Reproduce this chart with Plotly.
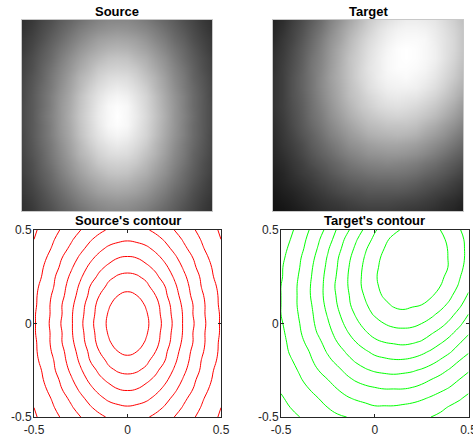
import numpy as np
import plotly.graph_objects as go

W, H = 473, 439

# sample grid (both axes), -0.5 .. 0.5
grid = [-0.5, -0.45, -0.4, -0.35, -0.3, -0.25, -0.2, -0.15, -0.1, -0.05, 0.0,
        0.05, 0.1, 0.15, 0.2, 0.25, 0.3, 0.35, 0.4, 0.45, 0.5]

# Source intensity (x100), rows from y=-0.5 (bottom) to y=0.5 (top)
source_vals = [
    [19, 22, 27, 31, 36, 40, 44, 48, 51, 53, 53, 53, 51, 48, 44, 40, 36, 31, 27, 22, 19],
    [20, 24, 29, 34, 39, 44, 49, 53, 56, 58, 59, 58, 56, 53, 49, 44, 39, 34, 29, 24, 20],
    [22, 26, 31, 37, 42, 48, 53, 58, 62, 64, 65, 64, 62, 58, 53, 48, 42, 37, 31, 26, 22],
    [23, 28, 34, 40, 46, 52, 58, 63, 67, 70, 71, 70, 67, 63, 58, 52, 46, 40, 34, 28, 23],
    [25, 30, 36, 42, 49, 56, 62, 68, 72, 76, 77, 76, 72, 68, 62, 56, 49, 42, 36, 30, 25],
    [26, 31, 38, 45, 52, 59, 66, 72, 78, 81, 82, 81, 78, 72, 66, 59, 52, 45, 38, 31, 26],
    [27, 33, 39, 47, 54, 62, 70, 76, 82, 86, 87, 86, 82, 76, 70, 62, 54, 47, 39, 33, 27],
    [28, 34, 41, 48, 56, 64, 72, 80, 86, 90, 92, 90, 86, 80, 72, 64, 56, 48, 41, 34, 28],
    [28, 35, 42, 50, 58, 66, 75, 83, 89, 94, 96, 94, 89, 83, 75, 66, 58, 50, 42, 35, 28],
    [29, 35, 42, 50, 59, 67, 76, 84, 91, 97, 99, 97, 91, 84, 76, 67, 59, 50, 42, 35, 29],
    [29, 35, 43, 51, 59, 68, 77, 85, 92, 97, 100, 97, 92, 85, 77, 68, 59, 51, 43, 35, 29],
    [29, 35, 42, 50, 59, 67, 76, 84, 91, 97, 99, 97, 91, 84, 76, 67, 59, 50, 42, 35, 29],
    [28, 35, 42, 50, 58, 66, 75, 83, 89, 94, 96, 94, 89, 83, 75, 66, 58, 50, 42, 35, 28],
    [28, 34, 41, 48, 56, 64, 72, 80, 86, 90, 92, 90, 86, 80, 72, 64, 56, 48, 41, 34, 28],
    [27, 33, 39, 47, 54, 62, 70, 76, 82, 86, 87, 86, 82, 76, 70, 62, 54, 47, 39, 33, 27],
    [26, 31, 38, 45, 52, 59, 66, 72, 78, 81, 82, 81, 78, 72, 66, 59, 52, 45, 38, 31, 26],
    [25, 30, 36, 42, 49, 56, 62, 68, 72, 76, 77, 76, 72, 68, 62, 56, 49, 42, 36, 30, 25],
    [23, 28, 34, 40, 46, 52, 58, 63, 67, 70, 71, 70, 67, 63, 58, 52, 46, 40, 34, 28, 23],
    [22, 26, 31, 37, 42, 48, 53, 58, 62, 64, 65, 64, 62, 58, 53, 48, 42, 37, 31, 26, 22],
    [20, 24, 29, 34, 39, 44, 49, 53, 56, 58, 59, 58, 56, 53, 49, 44, 39, 34, 29, 24, 20],
    [19, 22, 27, 31, 36, 40, 44, 48, 51, 53, 53, 53, 51, 48, 44, 40, 36, 31, 27, 22, 19],
]

# Target intensity (x100), rows from y=-0.5 (bottom) to y=0.5 (top)
target_vals = [
    [7, 8, 10, 12, 15, 17, 19, 20, 22, 23, 24, 24, 24, 23, 22, 21, 20, 18, 16, 14, 11],
    [8, 10, 12, 15, 17, 20, 22, 24, 26, 28, 29, 29, 29, 28, 27, 26, 24, 22, 19, 17, 14],
    [9, 12, 14, 17, 20, 23, 26, 29, 31, 32, 34, 34, 34, 34, 33, 31, 29, 26, 24, 21, 18],
    [11, 14, 17, 20, 23, 27, 30, 33, 36, 38, 39, 40, 40, 40, 39, 37, 34, 32, 29, 25, 22],
    [12, 15, 19, 23, 26, 30, 34, 38, 41, 43, 45, 46, 46, 46, 45, 43, 40, 37, 34, 30, 26],
    [14, 17, 21, 25, 30, 34, 38, 42, 46, 49, 51, 52, 53, 52, 51, 49, 46, 43, 39, 35, 31],
    [15, 19, 23, 28, 33, 38, 42, 47, 51, 54, 57, 58, 59, 59, 58, 56, 53, 49, 45, 40, 36],
    [16, 21, 25, 30, 36, 41, 46, 51, 56, 59, 62, 64, 65, 65, 64, 62, 59, 55, 51, 46, 41],
    [17, 22, 27, 33, 38, 44, 50, 55, 60, 64, 68, 70, 71, 72, 71, 69, 65, 61, 57, 51, 46],
    [18, 23, 29, 35, 41, 47, 53, 59, 64, 69, 73, 75, 77, 77, 77, 75, 71, 67, 62, 57, 51],
    [19, 24, 30, 36, 43, 49, 56, 62, 68, 73, 77, 80, 82, 83, 82, 80, 77, 73, 68, 62, 56],
    [20, 25, 31, 37, 44, 51, 58, 65, 71, 77, 81, 85, 87, 88, 87, 85, 82, 78, 73, 67, 60],
    [20, 25, 32, 38, 45, 53, 60, 67, 74, 79, 84, 88, 91, 92, 91, 90, 87, 83, 78, 72, 65],
    [20, 25, 32, 39, 46, 54, 61, 68, 75, 81, 87, 91, 94, 95, 95, 94, 91, 87, 82, 75, 69],
    [20, 25, 32, 39, 46, 54, 62, 69, 76, 83, 88, 93, 96, 97, 98, 96, 94, 90, 85, 79, 72],
    [19, 25, 31, 38, 46, 53, 61, 69, 76, 83, 89, 93, 97, 99, 99, 98, 96, 92, 87, 81, 74],
    [19, 24, 30, 37, 45, 52, 60, 68, 76, 82, 88, 93, 97, 99, 100, 99, 97, 94, 89, 83, 76],
    [18, 23, 29, 36, 43, 51, 59, 67, 74, 81, 87, 92, 96, 99, 100, 99, 97, 94, 89, 84, 77],
    [16, 22, 27, 34, 41, 49, 57, 64, 72, 79, 85, 90, 94, 97, 98, 98, 97, 93, 89, 84, 77],
    [15, 20, 26, 32, 39, 46, 54, 62, 69, 76, 82, 88, 92, 95, 96, 96, 95, 92, 88, 83, 77],
    [14, 18, 24, 30, 36, 43, 51, 58, 65, 72, 79, 84, 88, 91, 93, 93, 92, 90, 86, 81, 75],
]

titles = ["Source", "Target", "Source's contour", "Target's contour"]
tick_vals = [-0.5, 0, 0.5]
tick_text = ["-0.5", "0", "0.5"]

src = np.array(source_vals) / 100.0
tgt = np.array(target_vals) / 100.0
xs = np.array(grid)

fig = go.Figure()
gray = [[0, "black"], [1, "white"]]
fig.add_trace(go.Heatmap(x=xs, y=xs, z=src, colorscale=gray, zmin=0, zmax=1, showscale=False,
                         zsmooth="best", xaxis="x", yaxis="y", hoverinfo="skip"))
fig.add_trace(go.Heatmap(x=xs, y=xs, z=tgt, colorscale=gray, zmin=0, zmax=1, showscale=False,
                         zsmooth="best", xaxis="x2", yaxis="y2", hoverinfo="skip"))
for z, col, ax in [(src, "#ff0000", "3"), (tgt, "#00ff00", "4")]:
    fig.add_trace(go.Contour(x=xs, y=xs, z=z, autocontour=False,
                             contours=dict(coloring="lines", start=0.1, end=0.9001, size=0.1),
                             colorscale=[[0, col], [1, col]], showscale=False,
                             line=dict(width=1, smoothing=1.3),
                             xaxis="x" + ax, yaxis="y" + ax, hoverinfo="skip"))


def px_x(a, b):
    return [a / W, b / W]


def px_y(top, bot):
    return [1 - bot / H, 1 - top / H]


img_ax = dict(range=[-0.5, 0.5], showticklabels=False, ticks="", showline=True, mirror=True,
              linecolor="#c8c8c8", linewidth=1, showgrid=False, zeroline=False, automargin=False)
ct_ax = dict(range=[-0.5, 0.5], tickvals=tick_vals, ticktext=tick_text, ticks="inside", ticklen=3,
             tickcolor="#262626", showline=True, mirror="allticks", linecolor="#262626", linewidth=1,
             showgrid=False, zeroline=False, automargin=False, ticklabeloverflow="allow",
             tickfont=dict(family="Liberation Sans, Arial", size=12, color="#262626"))

fig.update_layout(
    width=W, height=H, margin=dict(l=0, r=0, t=0, b=0, pad=0, autoexpand=False),
    paper_bgcolor="white", plot_bgcolor="white", showlegend=False,
    xaxis=dict(domain=px_x(22, 212), anchor="y", **img_ax),
    yaxis=dict(domain=px_y(20, 211), anchor="x", **img_ax),
    xaxis2=dict(domain=px_x(273, 463), anchor="y2", **img_ax),
    yaxis2=dict(domain=px_y(20, 211), anchor="x2", **img_ax),
    xaxis3=dict(domain=px_x(34, 221), anchor="y3", ticklabelstandoff=2, **ct_ax),
    yaxis3=dict(domain=px_y(230, 417), anchor="x3", ticklabelstandoff=-1, **ct_ax),
    xaxis4=dict(domain=px_x(281, 468.5), anchor="y4", ticklabelstandoff=2, **ct_ax),
    yaxis4=dict(domain=px_y(230, 417), anchor="x4", ticklabelstandoff=-1, **ct_ax),
)

pos = [(117, 12), (368, 12), (127.5, 220.5), (374.7, 220.5)]
for t, (cx, cy) in zip(titles, pos):
    fig.add_annotation(text=t, x=cx / W, y=1 - cy / H, xref="paper", yref="paper",
                       xanchor="center", yanchor="middle", showarrow=False,
                       font=dict(family="Liberation Sans, Arial", size=13, color="black", weight="bold"))

fig.write_html("out.html")
